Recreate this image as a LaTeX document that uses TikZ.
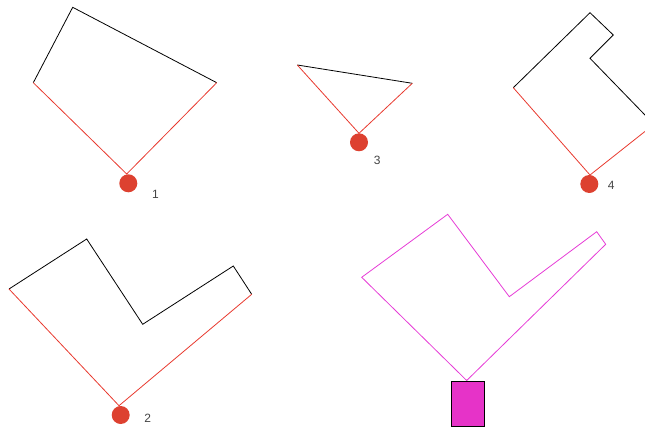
\documentclass[tikz,border=0pt]{standalone}
\usepackage{fontspec}
\setmainfont{Liberation Sans}
\definecolor{redline}{HTML}{E8392E}
\definecolor{reddot}{HTML}{DD4130}
\definecolor{mag}{HTML}{E63CD6}
\definecolor{magfill}{HTML}{E633C8}
\definecolor{lbl}{HTML}{444444}
\begin{document}
\begin{tikzpicture}[x=1pt,y=-1pt,
  blk/.style={draw=black,line width=0.8pt,line join=miter},
  rdl/.style={draw=redline,line width=0.8pt},
  mgl/.style={draw=mag,line width=0.8pt,line join=miter},
  dot/.style={circle,fill=reddot,draw=none,minimum size=18pt,inner sep=0pt},
  lab/.style={text=lbl,font=\fontsize{12}{14}\selectfont,inner sep=0pt},
  box/.style={rectangle,fill=magfill,draw=black,line width=0.9pt,minimum width=33pt,minimum height=45pt,inner sep=0pt}]
\useasboundingbox (0,0) rectangle (645,430);
\begin{scope}
\clip (0,0) rectangle (645,430);
% shape 1
\coordinate (a1) at (33.3,82.7);
\coordinate (b1) at (72.7,7.3);
\coordinate (c1) at (216.7,82.7);
\coordinate (p1) at (126.7,174);
\draw[blk] (a1) -- (b1) -- (c1);
\draw[rdl] (a1) -- (p1) -- (c1);
\node[dot] (d1) at (128.3,183.3) {};
\node[lab] (l1) at (155.5,194) {1};
% shape 3
\coordinate (a3) at (297.3,65);
\coordinate (c3) at (412.3,83.3);
\coordinate (p3) at (359,133.3);
\draw[blk] (a3) -- (c3);
\draw[rdl] (a3) -- (p3) -- (c3);
\node[dot] (d3) at (359,142.3) {};
\node[lab] (l3) at (377.3,160) {3};
% shape 4
\coordinate (a4) at (513.3,87.7);
\coordinate (b4) at (590,12.7);
\coordinate (c4) at (613.3,35);
\coordinate (e4) at (590,58.3);
\coordinate (f4) at (654,124.3);
\coordinate (p4) at (590,175);
\draw[blk] (a4) -- (b4) -- (c4) -- (e4) -- (f4);
\draw[rdl] (a4) -- (p4) -- (f4);
\node[dot] (d4) at (589.3,184) {};
\node[lab] (l4) at (611.3,185) {4};
% shape 2
\coordinate (a2) at (9,289);
\coordinate (b2) at (86.7,239);
\coordinate (c2) at (142.7,324.3);
\coordinate (e2) at (233.3,266);
\coordinate (f2) at (251.7,294.3);
\coordinate (p2) at (119,405.7);
\draw[blk] (a2) -- (b2) -- (c2) -- (e2) -- (f2);
\draw[rdl] (a2) -- (p2) -- (f2);
\node[dot] (d2) at (120.7,415) {};
\node[lab] (l2) at (147.7,418.3) {2};
% shape 5
\coordinate (a5) at (361.7,277.3);
\coordinate (b5) at (447.7,214.3);
\coordinate (c5) at (509.3,296.7);
\coordinate (e5) at (596.7,231.7);
\coordinate (f5) at (605.7,244.3);
\coordinate (p5) at (466.7,380.5);
\draw[mgl] (p5) -- (a5) -- (b5) -- (c5) -- (e5) -- (f5) -- cycle;
\node[box,anchor=north] (r5) at (467.5,381) {};
\end{scope}
\end{tikzpicture}
\end{document}
